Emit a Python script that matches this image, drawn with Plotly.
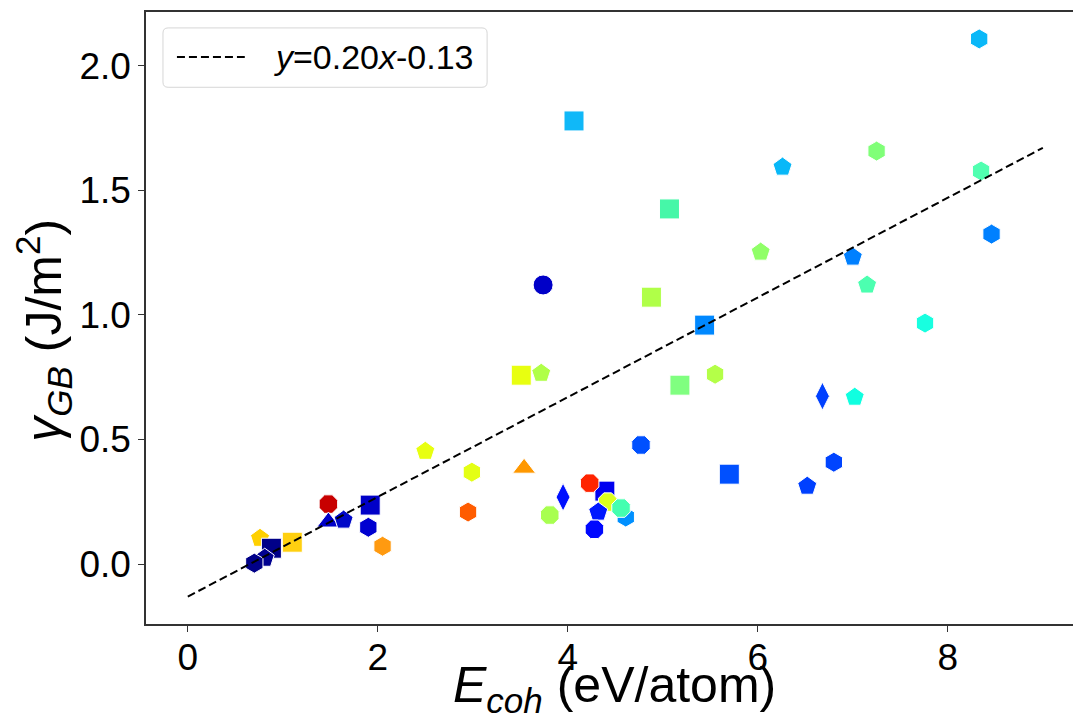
import plotly.graph_objects as go

# Cohesive energy (eV/atom)
e_coh = [8.33, 4.065, 6.26, 7.25, 8.35, 5.07, 8.46, 6.03, 7.00, 7.15,
         3.74, 4.88, 5.44, 7.76, 5.18, 5.55, 3.51, 3.72, 6.68, 7.02,
         4.77, 2.50, 5.70, 6.80, 6.52, 2.99, 3.54, 3.95, 3.81, 4.39,
         4.23, 4.61, 4.42, 4.56, 4.32, 4.28, 2.95, 1.48, 1.92, 1.90,
         2.05, 1.48, 1.64, 0.76, 1.10, 0.88, 0.81, 0.70]
# Grain boundary energy (J/m^2)
gamma_gb = [2.107, 1.778, 1.593, 1.657, 1.577, 1.425, 1.324, 1.252, 1.232, 1.12,
            1.12, 1.071, 0.959, 0.967, 0.718, 0.762, 0.758, 0.766, 0.674, 0.670,
            0.478, 0.453, 0.361, 0.409, 0.313, 0.369, 0.385, 0.269, 0.197, 0.293,
            0.325, 0.189, 0.249, 0.225, 0.209, 0.140, 0.209, 0.241, 0.237, 0.148,
            0.072, 0.169, 0.177, 0.104, 0.088, 0.064, 0.024, 0.004]
symbols = ["hexagon", "square", "pentagon", "hexagon", "hexagon", "square", "hexagon", "pentagon", "pentagon", "pentagon",
           "circle", "square", "square", "hexagon", "square", "hexagon", "square", "pentagon", "diamond-tall", "pentagon",
           "octagon", "pentagon", "square", "hexagon", "pentagon", "hexagon", "triangle-up", "diamond-tall", "octagon", "square",
           "octagon", "hexagon", "octagon", "octagon", "pentagon", "octagon", "hexagon", "octagon", "square", "hexagon",
           "hexagon", "triangle-up", "pentagon", "pentagon", "square", "square", "pentagon", "hexagon"]
colors = ["#0ab8f8", "#10b8f8", "#08b8f8", "#80ff78", "#50ffb0", "#46f7a8", "#0080ff", "#90ff68", "#0080ff", "#4cffb0",
          "#0000c8", "#b0ff48", "#0088ff", "#18ffe0", "#80ff80", "#b4ff48", "#e8ff10", "#b0ff48", "#0040ff", "#10ffe0",
          "#0050ff", "#e8ff10", "#0050ff", "#0044ff", "#0040ff", "#e4ff14", "#ff9800", "#0010ff", "#a8ff50", "#0000f0",
          "#ff2400", "#0090ff", "#dcff1c", "#44ffb0", "#0018ff", "#0008ff", "#ff5c00", "#c80000", "#0000c8", "#0000d0",
          "#ff9a10", "#0000c8", "#0008c8", "#ffd000", "#ffd010", "#000088", "#000090", "#000088"]

# Linear fit
slope, intercept = 0.20, -0.13
fit_x = [0.0, 9.0]
fit_y = [slope * v + intercept for v in fit_x]
fit_label = "<i>y</i>=0.20<i>x</i>-0.13"
x_title = "<i>E</i><sub><i>coh</i></sub> (eV/atom)"
y_title = "<i>γ</i><sub><i>GB</i></sub> (J/m<sup>2</sup>)"

fig = go.Figure()
fig.add_trace(go.Scatter(
    x=e_coh, y=gamma_gb, mode="markers", showlegend=False,
    marker=dict(symbol=symbols, color=colors, size=20,
                line=dict(color="white", width=1)),
))
fig.add_trace(go.Scatter(
    x=fit_x, y=fit_y, mode="lines", showlegend=False, name=fit_label,
    line=dict(color="black", width=2, dash="8px,4px"),
))

# legend box drawn in paper coordinates (rounded rectangle)
x0, x1, y0, y1 = 0.0182, 0.366, 0.877, 0.974
rx, ry = 0.0055, 0.0085
box_path = (f"M {x0+rx},{y1} L {x1-rx},{y1} Q {x1},{y1} {x1},{y1-ry} "
            f"L {x1},{y0+ry} Q {x1},{y0} {x1-rx},{y0} L {x0+rx},{y0} "
            f"Q {x0},{y0} {x0},{y0+ry} L {x0},{y1-ry} Q {x0},{y1} {x0+rx},{y1} Z")
fig.add_shape(type="path", path=box_path, xref="paper", yref="paper",
              line=dict(color="#d6d6d6", width=1), fillcolor="rgba(255,255,255,0.8)")
fig.add_shape(type="line", xref="paper", yref="paper",
              x0=0.0332, x1=0.106, y0=0.9265, y1=0.9265,
              line=dict(color="black", width=2, dash="8px,4px"))

font = "Liberation Sans, Arial, sans-serif"
fig.add_annotation(text=fit_label, xref="paper", yref="paper",
                   x=0.1349, y=0.9265, xanchor="left", yanchor="middle",
                   showarrow=False, font=dict(size=34, family=font, color="black"))
fig.add_annotation(text=x_title, xref="paper", yref="paper",
                   x=0.503, y=-0.105, xanchor="center", yanchor="middle",
                   showarrow=False, font=dict(size=50, family=font, color="black"))
fig.add_annotation(text=y_title, xref="paper", yref="paper", textangle=-90,
                   x=-0.110, y=0.48, xanchor="center", yanchor="middle",
                   showarrow=False, font=dict(size=50, family=font, color="black"))

fig.update_layout(
    width=1073, height=719,
    margin=dict(l=138, r=1, t=4, b=103),
    paper_bgcolor="white", plot_bgcolor="white",
    font=dict(family=font, color="black"),
    showlegend=False,
    xaxis=dict(range=[-0.44, 9.37], tickvals=[0, 2, 4, 6, 8],
               showgrid=False, zeroline=False, showline=True, mirror=True,
               linecolor="#333", linewidth=1.5, ticks="outside", ticklen=6,
               tickcolor="#333", tickfont=dict(size=37), ticklabelstandoff=-6),
    yaxis=dict(range=[-0.24, 2.215], tickvals=[0, 0.5, 1.0, 1.5, 2.0],
               tickformat=".1f",
               showgrid=False, zeroline=False, showline=True, mirror=True,
               linecolor="#333", linewidth=1.5, ticks="outside", ticklen=6,
               tickcolor="#333", tickfont=dict(size=37)),
)

fig.write_html("out.html")
